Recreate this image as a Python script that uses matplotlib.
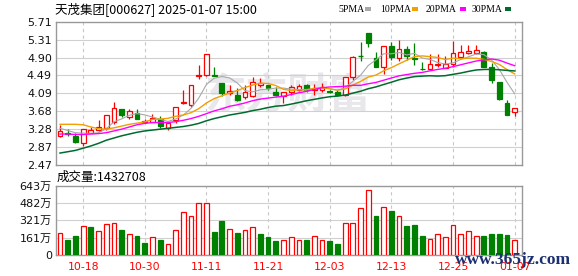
import matplotlib
matplotlib.use('Agg')
import matplotlib.pyplot as plt
from matplotlib.patches import Rectangle
import numpy as np

plt.rcParams['font.family'] = ['DejaVu Sans', 'Noto Sans CJK SC']

# ---------------- data ----------------
title = "天茂集团[000627] 2025-01-07 15:00"
opens = [3.13, 3.19, 3.13, 2.96, 3.20, 3.26, 3.30, 3.45, 3.73, 3.56,
         3.64, 3.44, 3.45, 3.50, 3.31, 3.48, 3.87, 3.83, 4.49, 4.50,
         4.51, 4.32, 4.10, 4.05, 4.00, 4.04, 4.27, 4.28, 4.13, 4.02,
         4.12, 4.17, 4.28, 4.17, 4.17, 4.14, 4.13, 4.05, 4.45, 4.95,
         5.45, 4.90, 4.69, 5.15, 4.90, 5.09, 4.90, 4.65, 4.63, 4.72,
         4.67, 4.75, 4.92, 5.00, 5.00, 5.02, 4.69, 4.34, 3.87, 3.66]
closes = [3.24, 3.16, 2.98, 3.28, 3.26, 3.32, 3.60, 3.77, 3.61, 3.68,
          3.50, 3.455, 3.53, 3.355, 3.43, 3.78, 3.90, 4.29, 4.51, 4.97,
          4.49, 4.09, 4.14, 3.93, 4.11, 4.35, 4.32, 4.22, 4.045, 4.11,
          4.23, 4.26, 4.17, 4.20, 4.24, 4.12, 4.05, 4.47, 4.92, 4.94,
          5.22, 4.69, 5.15, 4.92, 5.09, 4.94, 4.87, 4.63, 4.75, 4.75,
          4.76, 5.00, 5.02, 5.05, 5.07, 4.69, 4.39, 3.96, 3.60, 3.75]
highs = [3.37, 3.28, 3.19, 3.28, 3.33, 3.48, 3.60, 3.89, 3.73, 3.73,
         3.73, 3.51, 3.62, 3.575, 3.44, 3.78, 4.17, 4.29, 4.73, 4.97,
         4.69, 4.32, 4.29, 4.22, 4.28, 4.45, 4.44, 4.28, 4.23, 4.11,
         4.28, 4.30, 4.31, 4.30, 4.32, 4.17, 4.16, 4.47, 4.93, 5.26,
         5.45, 5.02, 5.15, 5.26, 5.30, 5.15, 5.22, 4.81, 4.97, 4.97,
         4.94, 5.27, 5.18, 5.18, 5.18, 5.05, 4.77, 4.34, 3.94, 3.75]
lows = [3.10, 3.13, 2.97, 2.90, 3.19, 3.245, 3.26, 3.39, 3.55, 3.50,
        3.50, 3.41, 3.435, 3.31, 3.26, 3.43, 3.86, 3.79, 4.41, 4.49,
        4.48, 4.03, 4.05, 3.92, 3.955, 4.015, 4.24, 4.16, 4.03, 3.865,
        4.05, 4.14, 4.13, 4.05, 4.13, 4.10, 4.03, 4.02, 4.40, 4.82,
        5.14, 4.69, 4.52, 4.84, 4.82, 4.84, 4.72, 4.62, 4.62, 4.69,
        4.656, 4.69, 4.88, 4.97, 4.97, 4.69, 4.32, 3.94, 3.60, 3.58]
volumes = [204, 141, 179, 273, 257, 226, 289, 298, 235, 194,
           179, 113, 169, 141, 104, 235, 402, 358, 480, 486,
           216, 311, 245, 207, 235, 263, 198, 163, 132, 141,
           169, 141, 141, 176, 141, 132, 104, 298, 298, 433,
           602, 358, 449, 405, 364, 273, 282, 179, 151, 194,
           169, 282, 194, 226, 179, 179, 198, 198, 188, 143.27]
# moving-average values before the window is complete
ma5_early = [3.30, 3.25, 3.20, 3.19]
ma10_early = [3.39, 3.39, 3.39, 3.38, 3.33, 3.29, 3.28, 3.31, 3.35]
ma20_early = [3.17, 3.17, 3.16, 3.16, 3.17, 3.18, 3.20, 3.24, 3.28, 3.33,
              3.38, 3.41, 3.43, 3.43, 3.43, 3.45, 3.48, 3.52, 3.57]
ma30_early = [2.74, 2.77, 2.80, 2.85, 2.90, 2.96, 3.03, 3.08, 3.13, 3.17,
              3.21, 3.24, 3.26, 3.28, 3.30, 3.32, 3.34, 3.37, 3.41, 3.47,
              3.52, 3.56, 3.60, 3.63, 3.66, 3.70, 3.73, 3.77, 3.80]
date_idx = [3, 11, 19, 27, 35, 43, 51, 59]
date_labels = ['10-18', '10-30', '11-11', '11-21', '12-03', '12-13', '12-25', '01-07']
price_ticks = [2.47, 2.875, 3.28, 3.685, 4.09, 4.495, 4.90, 5.305, 5.71]
price_labels = ['2.47', '2.87', '3.28', '3.68', '4.09', '4.49', '4.90', '5.31', '5.71']
vol_ticks = [0, 161, 321, 482, 643]
vol_labels = ['0', '161万', '321万', '482万', '643万']
vol_label = "成交量:1432708"
ma_names = ['5PMA', '10PMA', '20PMA', '30PMA']

# ---------------- styling ----------------
RED = '#ff0000'
GREEN = '#008000'
MA_COLORS = ['#a8a8a8', '#f0a000', '#ff00ff', '#006b2e']
GRID = '#d0d0d0'
FRAME = '#999999'

W, H = 578, 276
fig = plt.figure(figsize=(W / 100, H / 100), dpi=100)
fig.patch.set_facecolor('white')


def fx(x):
    return x / W


def fy(y):
    return 1 - y / H


ax = fig.add_axes([fx(56), fy(165), fx(522) - fx(56), fy(21.7) - fy(165)])
axv = fig.add_axes([fx(56), fy(255), fx(522) - fx(56), fy(185.7) - fy(255)])

n = len(closes)
x = np.arange(n)
bw = 0.62

# watermark in price panel
ax.text(29.5, 4.05, '东方财富', fontsize=30, fontweight='bold', color='#e8e8ec',
        family=['Noto Sans CJK SC'], ha='center', va='center', zorder=0)

for a in (ax, axv):
    a.set_xlim(-0.52, 59.95)
    for s in a.spines.values():
        s.set_color(FRAME)
        s.set_linewidth(1)
    a.tick_params(length=0, labelsize=8, colors='#111111', pad=3)
    for d in date_idx:
        a.axvline(d, color='#c8c8c8', lw=0.8, ls=(0, (3, 3)), zorder=0.5)

ax.set_ylim(2.47, 5.71)
ax.set_yticks(price_ticks)
ax.set_yticklabels(price_labels)
for t in price_ticks[1:-1]:
    ax.axhline(t, color=GRID, lw=0.8, zorder=0.5)
ax.set_xticks([])

axv.set_ylim(0, 643)
axv.set_yticks(vol_ticks)
axv.set_yticklabels(vol_labels)
for t in vol_ticks[1:-1]:
    axv.axhline(t, color=GRID, lw=0.8, zorder=0.5)
axv.set_xticks(date_idx)
axv.set_xticklabels(date_labels, color=RED, fontsize=7.8)
axv.tick_params(axis='x', pad=5)

# candles
for i in range(n):
    o, c, h, l = opens[i], closes[i], highs[i], lows[i]
    up = c >= o
    col = RED if up else GREEN
    ax.vlines(i, l, h, color=col, lw=0.9, zorder=2)
    bot, top = min(o, c), max(o, c)
    if top - bot < 0.012:
        ax.hlines((o + c) / 2, i - bw / 2, i + bw / 2, color=col, lw=1.0, zorder=3)
    else:
        ax.add_patch(Rectangle((i - bw / 2, bot), bw, top - bot,
                               facecolor='white' if up else GREEN,
                               edgecolor=col, lw=0.9, zorder=3))

# moving averages
cl = np.array(closes)


def moving(nw, early):
    vals = list(early)
    for i in range(len(early), n):
        vals.append(cl[i - nw + 1:i + 1].mean())
    return np.array(vals)


mas = [moving(5, ma5_early), moving(10, ma10_early),
       moving(20, ma20_early), moving(30, ma30_early)]
lws = [0.8, 1.0, 1.0, 1.1]
for m, colr, lw in zip(mas, MA_COLORS, lws):
    ax.plot(x, m, color=colr, lw=lw, zorder=4)

# volume bars (colour by change vs previous close)
for i in range(n):
    if i == 0:
        up = closes[0] >= opens[0]
    else:
        up = closes[i] >= closes[i - 1]
    if up:
        axv.add_patch(Rectangle((i - bw / 2, 0), bw, volumes[i], facecolor='white',
                                edgecolor=RED, lw=0.9, zorder=3))
    else:
        axv.add_patch(Rectangle((i - bw / 2, 0), bw, volumes[i], facecolor=GREEN,
                                edgecolor=GREEN, lw=0.9, zorder=3))

# title and labels
fig.text(fx(55), fy(9), title, fontsize=9, family=['Noto Sans CJK SC', 'DejaVu Sans'],
         ha='left', va='center', color='#000000')
fig.text(fx(57), fy(177), vol_label, fontsize=9, family=['Noto Sans CJK SC', 'DejaVu Sans'],
         ha='left', va='center', color='#000000')

# legend
leg_x = [338.7, 379.7, 425.7, 471.3]
dash_x = [365.0, 412.0, 459.7, 504.7]
for name, tx, dx, colr in zip(ma_names, leg_x, dash_x, MA_COLORS):
    fig.text(fx(tx), fy(9), name, fontsize=7.0, family=['Liberation Serif'],
             ha='left', va='center', color='#000000')
    fig.patches.append(Rectangle((fx(dx), fy(10.5)), 6 / W, 3 / H, facecolor=colr,
                                 edgecolor='none', transform=fig.transFigure, figure=fig))

# site watermark
fig.text(fx(513), fy(260.5), 'www.365jz.com', fontsize=12.5, family=['Liberation Serif'],
         fontweight='bold', color='#1c3070', ha='center', va='center')

fig.savefig('out.png', dpi=100, facecolor='white')
